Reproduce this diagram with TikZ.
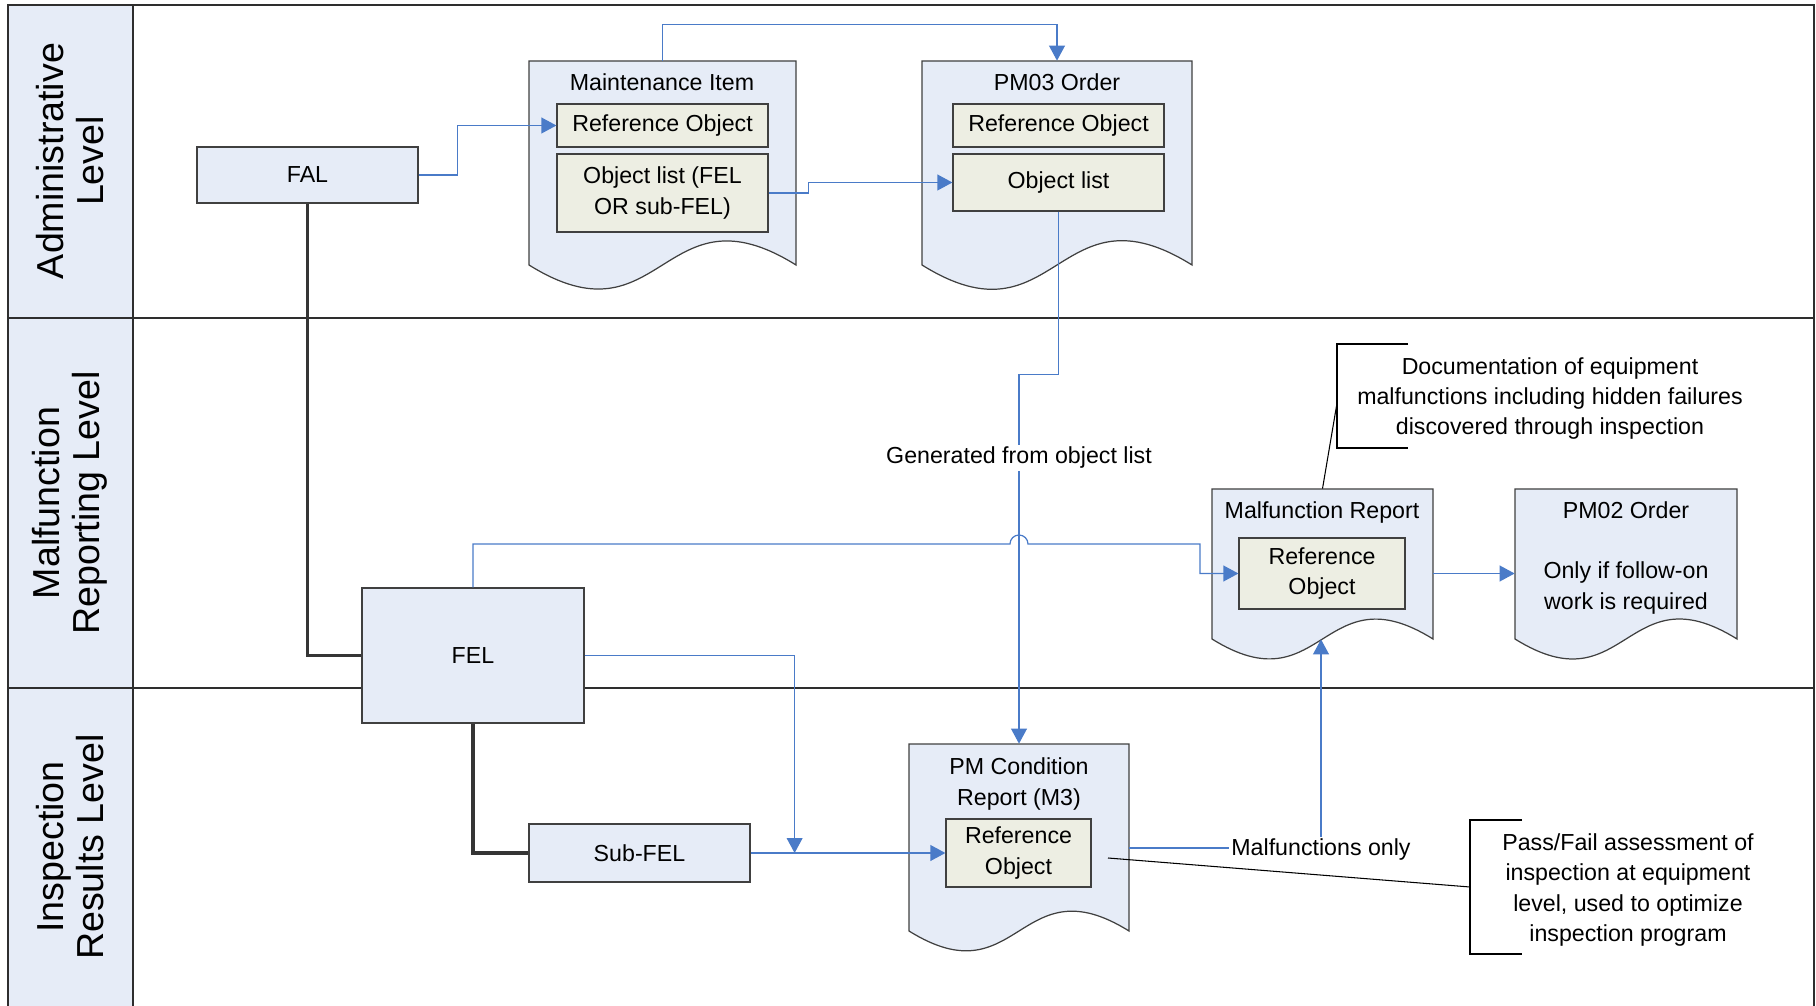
\documentclass[tikz,border=0pt]{standalone}
\usepackage{fontspec}
\setmainfont{Liberation Sans}
\usetikzlibrary{arrows.meta,fit,calc}

\definecolor{lanefill}{HTML}{E6ECF7}
\definecolor{docfill}{HTML}{E6ECF7}
\definecolor{itemfill}{HTML}{EDEEE3}
\definecolor{edge}{HTML}{404040}
\definecolor{treecol}{HTML}{353535}
\definecolor{flow}{HTML}{4A7BC8}
\definecolor{framecol}{HTML}{2E2E2E}

\tikzset{
  body/.style={font=\fontsize{13.2pt}{17.1pt}\selectfont},
  lanetext/.style={font=\fontsize{21.4pt}{23pt}\selectfont, rotate=90, align=center, inner sep=0pt},
  blockbox/.style={body, draw=edge, line width=0.7pt, fill=lanefill, inner sep=0pt, align=center},
  itembox/.style={body, draw=edge, line width=0.7pt, fill=itemfill, inner sep=0pt, align=center},
  docarea/.style={inner sep=0pt, draw=none},
  doctext/.style={body, align=center, inner sep=0pt},
  flowline/.style={draw=flow, line width=0.7pt},
  flowarrow/.style={flowline, -{Triangle[length=8.5pt,width=9pt]}},
  tree/.style={draw=treecol, line width=2pt},
  leader/.style={draw=black, line width=0.6pt},
  laneline/.style={draw=framecol, line width=1pt},
  note/.style={body, align=center, inner sep=0pt},
}

% document sheet with a wavy lower edge; #1 name, #2 left, #3 top, #4 right, #5 wave base
\newcommand{\docsheet}[5]{%
  \pgfmathsetmacro{\docW}{#4-#2}%
  \pgfmathsetmacro{\docM}{#2+0.5*\docW}%
  \pgfmathsetmacro{\docK}{0.312*\docW}%
  \filldraw[fill=docfill, draw=edge, line width=0.7pt]
    (#2,#5) -- (#2,#3) -- (#4,#3) -- (#4,#5)
    .. controls (\docM,#5-\docK) and (\docM,#5+\docK) .. (#2,#5) -- cycle;
  \node[docarea, fit={(#2,#3) (#4,#5)}] (#1) {};
}

% rectangle node from its corners; #1 style, #2 name, #3 left, #4 top, #5 right, #6 bottom, #7 text
\newcommand{\cornerbox}[7]{%
  \pgfmathsetmacro{\boxW}{(#5-#3)*0.02}%
  \pgfmathsetmacro{\boxH}{(#6-#4)*0.02}%
  \node[#1, minimum width=\boxW cm, minimum height=\boxH cm]
    (#2) at ({(#3+#5)/2},{(#4+#6)/2}) {#7};
}

\begin{document}
\begin{tikzpicture}[x=0.02cm, y=-0.02cm]
\useasboundingbox (0,0) rectangle (1816,1006);

% swimlanes
\fill[lanefill] (8,5) rectangle (133,1006);
\draw[laneline] (133,5) -- (133,1006);
\draw[laneline] (8,1006) -- (8,5) -- (1814,5) -- (1814,1006);
\draw[laneline] (8,318) -- (1814,318);
\draw[laneline] (8,688) -- (1814,688);

\node[lanetext] (lane1) at (70,161) {Administrative\\Level};
\node[lanetext] (lane2) at (70,503) {Malfunction\\Reporting Level};
\node[lanetext] (lane3) at (70,847) {Inspection\\Results Level};

% documents
\docsheet{mi}{529}{61}{796}{265}
\node[doctext] (mititle) at (662,82) {Maintenance Item};
\cornerbox{itembox}{miref}{557}{104}{768}{147}{Reference Object}
\cornerbox{itembox}{miobj}{557}{154}{768}{232}{Object list (FEL\\OR sub-FEL)}

\docsheet{pm03}{922}{61}{1192}{265}
\node[doctext] (pm03title) at (1057,82) {PM03 Order};
\cornerbox{itembox}{pmref}{953}{104}{1164}{147}{Reference Object}
\cornerbox{itembox}{pmobj}{953}{154}{1164}{211}{Object list}

\docsheet{mr}{1212}{489}{1433}{639}
\node[doctext] (mrtitle) at (1322,513) {Malfunction Report};
\cornerbox{itembox}{mrref}{1239}{538}{1405}{609}{Reference\\Object}

\docsheet{pm02}{1515}{489}{1737}{639}
\node[doctext] (pm02title) at (1626,510) {PM02 Order};
\node[doctext] (pm02text) at (1626,588) {Only if follow-on\\work is required};

\docsheet{pmc}{909}{744}{1129}{931}
\node[doctext] (pmctitle) at (1019,784) {PM Condition\\Report (M3)};
\cornerbox{itembox}{pmcref}{946}{819}{1091}{887}{Reference\\Object}

% functional location boxes
\cornerbox{blockbox}{fal}{197}{147}{418}{203}{FAL}
\cornerbox{blockbox}{fel}{362}{588}{584}{723}{FEL}
\cornerbox{blockbox}{subfel}{529}{824}{750}{882}{Sub-FEL}

% hierarchy
\draw[tree] (fal.south) |- (fel.west);
\draw[tree] (fel.south) |- (subfel.west);

% flows
\draw[flowarrow] (fal.east) -- ++(39,0) |- (miref.west);
\draw[flowarrow] (miobj.east) -- ++(40,0) |- (pmobj.west);
\draw[flowarrow] (mi.north) -- ++(0,-36) -| (pm03.north);
\draw[flowarrow] (pmobj.south) -- ++(0,163) -| (pmc.north);
\node[body, fill=white, inner sep=1pt] (genlabel) at (1019,458) {Generated from object list};

\draw[flowarrow] (fel.north) |- (1010,544)
  arc[start angle=180, end angle=0, radius=0.18cm] -- (1200,544) |- (mrref.west);

\coordinate (merge) at ($(subfel.east)+(44,0)$);
\draw[flowarrow] (fel.east) -| (merge);
\draw[flowarrow] (subfel.east) -- (pmcref.west);

\node[body, inner sep=1pt] (mfonly) at (1321,850) {Malfunctions only};
\draw[flowline] (pmc.east |- 0,848) -- (mfonly.west |- 0,848);
\draw[flowarrow] (mfonly.north) -- (mfonly.north |- mr.south);
\draw[flowarrow] (mrref.east -| mr.east) -- (mrref.east -| pm02.west);

% annotations
\node[note] (note1) at (1550,398.5) {Documentation of equipment\\malfunctions including hidden failures\\discovered through inspection};
\draw[leader] (1408,344) -- (1337,344) -- (1337,448) -- (1408,448);
\coordinate (tap1) at (1337,403);
\draw[leader] (tap1) -- (mr.north);

\node[note] (note2) at (1628,890) {Pass/Fail assessment of\\inspection at equipment\\level, used to optimize\\inspection program};
\draw[leader] (1522,820) -- (1470,820) -- (1470,954) -- (1522,954);
\coordinate (tap2) at (1470,887);
\coordinate (tip2) at (1108,858);
\draw[leader] (tap2) -- (tip2);
\end{tikzpicture}
\end{document}
